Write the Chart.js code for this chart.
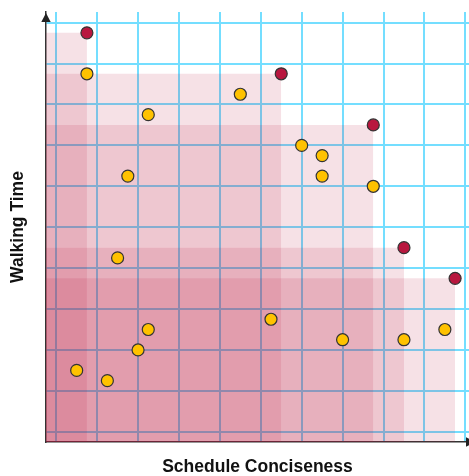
<!DOCTYPE html>
<html>
<head>
<meta charset="utf-8">
<title>Walking Time vs Schedule Conciseness</title>
<script src="https://cdn.jsdelivr.net/npm/chart.js@4.4.1/dist/chart.umd.min.js"></script>
<style>
    html, body { margin: 0; padding: 0; background: #fff; overflow: hidden; }
    #myChart { display: block; }
</style>
</head>
<body>
<canvas id="myChart" width="469" height="476"></canvas>
<script>
// Pareto-front schedules (red) and the other candidates (yellow)
const frontX = [1, 5.75, 8, 8.75, 10];
const frontY = [10, 9, 7.75, 4.75, 4];
const otherX = [1, 4.75, 2.5, 2, 6.25, 6.75, 6.75, 8, 1.75, 2.5, 2.25, 0.75, 1.5, 5.5, 7.25, 8.75, 9.75];
const otherY = [9, 8.5, 8, 6.5, 7.25, 7, 6.5, 6.25, 4.5, 2.75, 2.25, 1.75, 1.5, 3, 2.5, 2.5, 2.75];
// background grid positions (same for both axes)
const gridLines = [0.25, 1.25, 2.25, 3.25, 4.25, 5.25, 6.25, 7.25, 8.25, 9.25, 10.25];
const xLabel = 'Schedule Conciseness';
const yLabel = 'Walking Time';

const red = '#b8173f';
const yellow = '#ffc200';
const shade = 'rgba(184, 23, 63, 0.13)';
const gridColor = '#74deff';
const titleFont = { family: "'Liberation Sans', Arial, sans-serif", size: 17.5, weight: 'bold', lineHeight: 1 };

// dominated area of each front point: a box from the origin up to the point
const boxSets = frontX.map((x, i) => ({
    type: 'line',
    data: [{ x: 0, y: frontY[i] }, { x: x, y: frontY[i] }],
    borderWidth: 0,
    pointRadius: 0,
    backgroundColor: shade,
    fill: 'start',
    order: 2
}));

const arrows = {
    id: 'arrows',
    afterDraw(chart) {
        const ctx = chart.ctx;
        const a = chart.chartArea;
        ctx.save();
        ctx.fillStyle = '#222';
        ctx.beginPath(); // y axis
        ctx.moveTo(a.left, a.top + 1);
        ctx.lineTo(a.left - 4.7, a.top + 10);
        ctx.lineTo(a.left + 4.7, a.top + 10);
        ctx.closePath();
        ctx.fill();
        ctx.beginPath(); // x axis, tip runs off the canvas
        ctx.moveTo(a.right + 6, a.bottom);
        ctx.lineTo(a.right - 3, a.bottom - 4.7);
        ctx.lineTo(a.right - 3, a.bottom + 4.7);
        ctx.closePath();
        ctx.fill();
        ctx.restore();
    }
};

function gridAxis(max, title, titlePadding) {
    return {
        type: 'linear',
        min: 0,
        max: max,
        afterBuildTicks: axis => { axis.ticks = gridLines.map(v => ({ value: v })); },
        ticks: { display: false },
        grid: { color: gridColor, lineWidth: 2, drawTicks: false },
        border: { display: true, color: '#333', width: 1.5 },
        title: { display: true, text: title, color: '#111', font: titleFont, padding: titlePadding }
    };
}

const xAxis = gridAxis(10.34, xLabel, { top: 0, bottom: 0 });
xAxis.afterFit = scale => { scale.height = 34; };
const yAxis = gridAxis(10.51, yLabel, { top: 9, bottom: 0 });
yAxis.afterFit = scale => { scale.width = 46; };

new Chart(document.getElementById('myChart'), {
    type: 'scatter',
    data: {
        datasets: [
            {
                label: 'Pareto front',
                data: frontX.map((x, i) => ({ x: x, y: frontY[i] })),
                backgroundColor: red,
                borderColor: '#333',
                borderWidth: 1.2,
                pointRadius: 6,
                order: 0
            },
            {
                label: 'Other schedules',
                data: otherX.map((x, i) => ({ x: x, y: otherY[i] })),
                backgroundColor: yellow,
                borderColor: '#333',
                borderWidth: 1.2,
                pointRadius: 6,
                order: 1
            },
            ...boxSets
        ]
    },
    options: {
        responsive: false,
        animation: false,
        devicePixelRatio: 1,
        layout: { autoPadding: false, padding: { top: 12, right: 0, bottom: 0, left: 0 } },
        scales: { x: xAxis, y: yAxis },
        plugins: {
            legend: { display: false },
            tooltip: { enabled: false }
        }
    },
    plugins: [arrows]
});
</script>
</body>
</html>
